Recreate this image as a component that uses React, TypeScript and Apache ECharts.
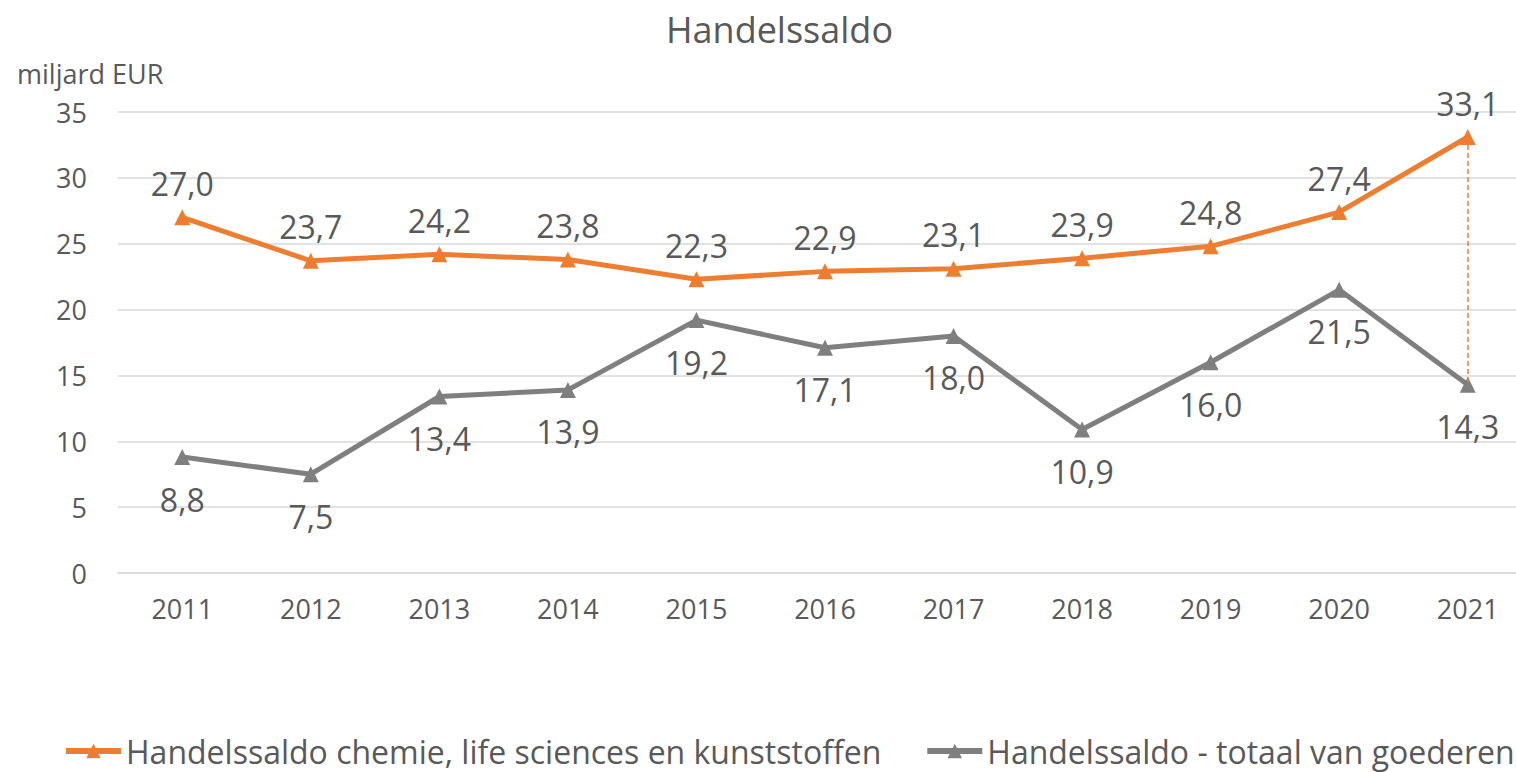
import React, { useEffect, useRef } from "react";
import * as echarts from "echarts";

const years = ["2011", "2012", "2013", "2014", "2015", "2016", "2017", "2018", "2019", "2020", "2021"];
const chemie = [27.0, 23.7, 24.2, 23.8, 22.3, 22.9, 23.1, 23.9, 24.8, 27.4, 33.1];
const totaal = [8.8, 7.5, 13.4, 13.9, 19.2, 17.1, 18.0, 10.9, 16.0, 21.5, 14.3];
const seriesNames = [
  "Handelssaldo chemie, life sciences en kunststoffen",
  "Handelssaldo - totaal van goederen",
];

const FONT = "'Open Sans', 'Noto Sans', sans-serif";
const TXT = "#595959";
const ORANGE = "#ED7D31";
const GREY = "#7F7F7F";

const fmt = (p: any) => Number(p.value).toFixed(1).replace(".", ",");

export default function App() {
  const ref = useRef<HTMLDivElement>(null);
  useEffect(() => {
    if (!ref.current) return;
    const chart = echarts.init(ref.current, null, { renderer: "svg" });
    const last = years[years.length - 1];
    chart.setOption({
      animation: false,
      backgroundColor: "#ffffff",
      textStyle: { fontFamily: FONT },
      title: [
        {
          text: "Handelssaldo",
          left: 661,
          top: 6,
          textStyle: { fontFamily: FONT, fontSize: 36, fontWeight: "normal", color: TXT },
        },
        {
          text: "miljard EUR",
          left: 12,
          top: 55,
          textStyle: { fontFamily: FONT, fontSize: 27, fontWeight: "normal", color: TXT },
        },
      ],
      grid: { left: 118, top: 112, right: 68, bottom: 199, containLabel: false },
      legend: {
        left: 58,
        top: 730,
        itemGap: 43,
        itemWidth: 55,
        itemHeight: 18,
        lineStyle: { width: 6 },
        textStyle: { fontFamily: FONT, fontSize: 32, color: TXT },
        data: seriesNames,
      },
      xAxis: {
        type: "category",
        data: years,
        boundaryGap: true,
        axisLine: { lineStyle: { color: "#D9D9D9", width: 1.5 } },
        axisTick: { show: false },
        axisLabel: { fontFamily: FONT, fontSize: 27, color: TXT, margin: 22 },
      },
      yAxis: {
        type: "value",
        min: 0,
        max: 35,
        interval: 5,
        axisLine: { show: false },
        axisTick: { show: false },
        splitLine: { lineStyle: { color: "#D9D9D9", width: 1.5 } },
        axisLabel: { fontFamily: FONT, fontSize: 27, color: TXT, margin: 31 },
      },
      series: [
        {
          name: seriesNames[0],
          type: "line",
          data: chemie,
          symbol: "triangle",
          symbolSize: 16,
          lineStyle: { color: ORANGE, width: 5 },
          itemStyle: { color: ORANGE },
          label: {
            show: true,
            position: "top",
            distance: 10,
            formatter: fmt,
            fontFamily: FONT,
            fontSize: 32,
            color: TXT,
          },
          markLine: {
            silent: true,
            symbol: ["none", "none"],
            label: { show: false },
            lineStyle: { type: [5, 3], color: ORANGE, width: 1.5 },
            data: [[{ coord: [last, chemie[chemie.length - 1]] }, { coord: [last, totaal[totaal.length - 1]] }]],
          },
        },
        {
          name: seriesNames[1],
          type: "line",
          data: totaal,
          symbol: "triangle",
          symbolSize: 16,
          lineStyle: { color: GREY, width: 5 },
          itemStyle: { color: GREY },
          label: {
            show: true,
            position: "bottom",
            distance: 18,
            formatter: fmt,
            fontFamily: FONT,
            fontSize: 32,
            color: TXT,
          },
        },
      ],
    });
    return () => chart.dispose();
  }, []);
  return (
    <div style={{ position: "fixed", left: 0, top: 0, width: 1516, height: 772, overflow: "hidden" }}>
      <div ref={ref} style={{ width: 1600, height: 772 }} />
    </div>
  );
}
